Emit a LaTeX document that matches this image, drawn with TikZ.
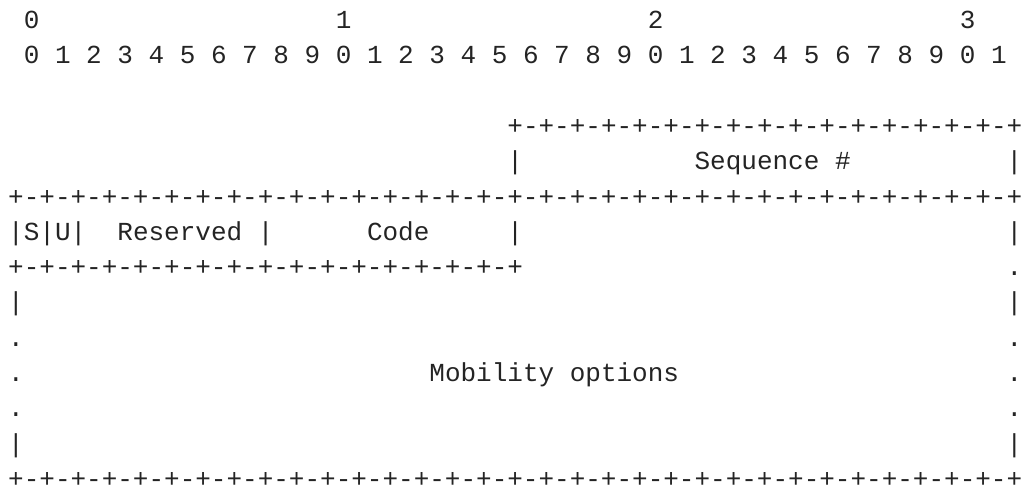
\documentclass[tikz,border=0pt]{standalone}
\usepackage{fontspec}
\usepackage{tikz}
\usepackage{xcolor}
\newfontfamily\asciifont{Liberation Mono}
\definecolor{asciiInk}{RGB}{36,36,36}

\begin{document}
\begin{tikzpicture}[
  x=7.8pt, y=-17.66pt,
  cell/.style={font=\asciifont\fontsize{13}{13}\selectfont, text=asciiInk,
    anchor=base west, inner sep=0pt, outer sep=0pt},
]
  \path[use as bounding box] (-4.1pt,14.2pt) rectangle (507.9pt,-230.3pt);

  % bit ruler
  \foreach \d in {0,...,3}
    \node[cell] (tens\d) at (1+20*\d, 0) {\d};
  \foreach \b [evaluate=\b as \digit using {int(mod(\b,10))}] in {0,...,31}
    \node[cell] (bit\b) at (1+2*\b, 1) {\digit};

  % first word
  \node[cell] (seqtop)  at (32, 3) {+-+-+-+-+-+-+-+-+-+-+-+-+-+-+-+-+};
  \node[cell] (seqleft) at (32, 4) {|};
  \node[cell] (seqno)   at (44, 4) {Sequence \#};
  \node[cell] (seqright) at (64, 4) {|};
  \node[cell] (border1) at (0, 5) {+-+-+-+-+-+-+-+-+-+-+-+-+-+-+-+-+-+-+-+-+-+-+-+-+-+-+-+-+-+-+-+-+};

  % flags, reserved, code
  \node[cell] (flags)    at (0, 6)  {|S|U|};
  \node[cell] (reserved) at (7, 6)  {Reserved};
  \node[cell] (bar16)    at (16, 6) {|};
  \node[cell] (code)     at (23, 6) {Code};
  \node[cell] (bar32)    at (32, 6) {|};
  \node[cell] (bar64)    at (64, 6) {|};
  \node[cell] (border2)  at (0, 7)  {+-+-+-+-+-+-+-+-+-+-+-+-+-+-+-+-+};
  \node[cell] (dotR7)    at (64, 7) {.};

  % mobility options
  \node[cell] (barL8)  at (0, 8)   {|};
  \node[cell] (barR8)  at (64, 8)  {|};
  \node[cell] (dotL9)  at (0, 9)   {.};
  \node[cell] (dotR9)  at (64, 9)  {.};
  \node[cell] (dotL10) at (0, 10)  {.};
  \node[cell] (mobopt) at (27, 10) {Mobility options};
  \node[cell] (dotR10) at (64, 10) {.};
  \node[cell] (dotL11) at (0, 11)  {.};
  \node[cell] (dotR11) at (64, 11) {.};
  \node[cell] (barL12) at (0, 12)  {|};
  \node[cell] (barR12) at (64, 12) {|};
  \node[cell] (border3) at (0, 13) {+-+-+-+-+-+-+-+-+-+-+-+-+-+-+-+-+-+-+-+-+-+-+-+-+-+-+-+-+-+-+-+-+};
\end{tikzpicture}
\end{document}
